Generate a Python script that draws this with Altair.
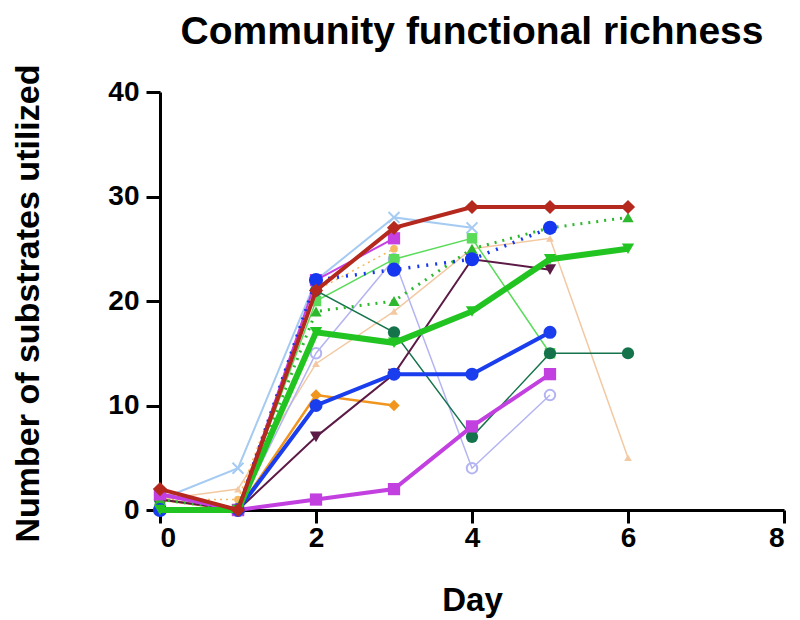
import altair as alt
import pandas as pd

days = [0, 1, 2, 3, 4, 5, 6]

tan = [1, 2, 14, 19, 25, 26, 5]
lavender = [0, 0, 15, 24, 4, 11, None]
lightblue = [1, 4, 22, 28, 27, None, None]
orange2 = [1, 1, 21, 25, None, None, None]
brightgreen = [0, 0, 20, 24, 26, 15, None]
teal = [1, 0, 21, 17, 7, 15, 15]
orange = [1, 0, 11, 10, None, None, None]
violet = [1.5, 0, 22, 26, None, None, None]
purple = [1, 0, 7, 13, 24, 23, None]
green_dot = [1, 0, 19, 20, 25, 27, 28]
blue_dot = [0, 0, 22, 23, 24, 27, None]
magenta = [1.5, 0, 1, 2, 8, 13, None]
blue = [0, 0, 10, 13, 13, 17, None]
green = [0, 0, 17, 16, 19, 24, 25]
red = [2, 0, 21, 27, 29, 29, 29]

X_PATH = "M-1,-1L1,1M1,-1L-1,1"

# name, values, color, shape, line width, dash, marker size, filled
series = [
    ("tan", tan, "#F2C9A2", "triangle-up", 1.5, None, 60, True),
    ("lavender", lavender, "#B4B4F2", "circle", 1.5, None, 110, False),
    ("lightblue", lightblue, "#A6CBF2", X_PATH, 2, None, 120, False),
    ("orange2", orange2, "#F6B860", "circle", 1.5, [2, 4], 60, True),
    ("brightgreen", brightgreen, "#5ADC5A", "square", 1.5, None, 110, True),
    ("teal", teal, "#15734C", "circle", 1.5, None, 150, True),
    ("orange", orange, "#F0951E", "diamond", 2.5, None, 130, True),
    ("violet", violet, "#C63FE2", "square", 2, None, 150, True),
    ("purple", purple, "#5C1B46", "triangle-down", 2, None, 150, True),
    ("green_dot", green_dot, "#2DB82D", "triangle-up", 3, [2, 6], 130, True),
    ("blue_dot", blue_dot, "#1637F0", "circle", 3.5, [2, 7], 200, True),
    ("magenta", magenta, "#C23FE0", "square", 4, None, 150, True),
    ("blue", blue, "#1A3DEE", "circle", 4, None, 170, True),
    ("green", green, "#22C422", "triangle-down", 6, None, 150, True),
    ("red", red, "#B4281E", "diamond", 4, None, 200, True),
]

rows = []
for name, vals, *_ in series:
    for d, v in zip(days, vals):
        if v is not None:
            rows.append({"series": name, "day": d, "value": v})
df = pd.DataFrame(rows)

FONT = "Liberation Sans"

x_axis = alt.Axis(
    values=[0, 2, 4, 6, 8], title="Day", grid=False,
    labelFontSize=28, labelFontWeight="bold", labelFont=FONT, labelColor="black",
    labelPadding=1, tickSize=13, tickWidth=3, tickColor="black",
    domainWidth=3, domainColor="black",
    titleFontSize=33, titleFontWeight="bold", titleFont=FONT, titleColor="black",
    titleY=74, titleBaseline="top",
)
y_axis = alt.Axis(
    values=[0, 10, 20, 30, 40], title="Number of substrates utilized", grid=False,
    labelFontSize=28, labelFontWeight="bold", labelFont=FONT, labelColor="black",
    labelPadding=7, tickSize=14, tickWidth=3, tickColor="black",
    domainWidth=3, domainColor="black",
    titleFontSize=34, titleFontWeight="bold", titleFont=FONT, titleColor="black",
    titleX=-132, titleY=211, titleAngle=270, titleAlign="center", titleBaseline="middle",
)

base = alt.Chart(df).encode(
    x=alt.X("day:Q", scale=alt.Scale(domain=[0, 8], nice=False), axis=x_axis),
    y=alt.Y("value:Q", scale=alt.Scale(domain=[0, 40], nice=False), axis=y_axis),
)

layers = []
for name, vals, color, shape, sw, dash, size, filled in series:
    sub = base.transform_filter(alt.datum.series == name)
    line_kw = dict(color=color, strokeWidth=sw)
    if dash:
        line_kw["strokeDash"] = dash
    layers.append(sub.mark_line(**line_kw))
    pt_kw = dict(shape=shape, size=size, color=color, opacity=1)
    if filled:
        pt_kw["filled"] = True
    else:
        pt_kw["filled"] = False
        pt_kw["strokeWidth"] = 2
    layers.append(sub.mark_point(**pt_kw))

chart = alt.layer(*layers).properties(
    width=624,
    height=418,
    autosize=alt.AutoSizeParams(type="none"),
    padding={"left": 152, "top": 84, "right": 8, "bottom": 110},
    title=alt.TitleParams(
        "Community functional richness", fontSize=39, fontWeight="bold",
        font=FONT, color="black", anchor="middle", offset=12,
    ),
).configure_view(stroke=None)

chart.save("out.html", embed_options={"renderer": "svg", "actions": False})
